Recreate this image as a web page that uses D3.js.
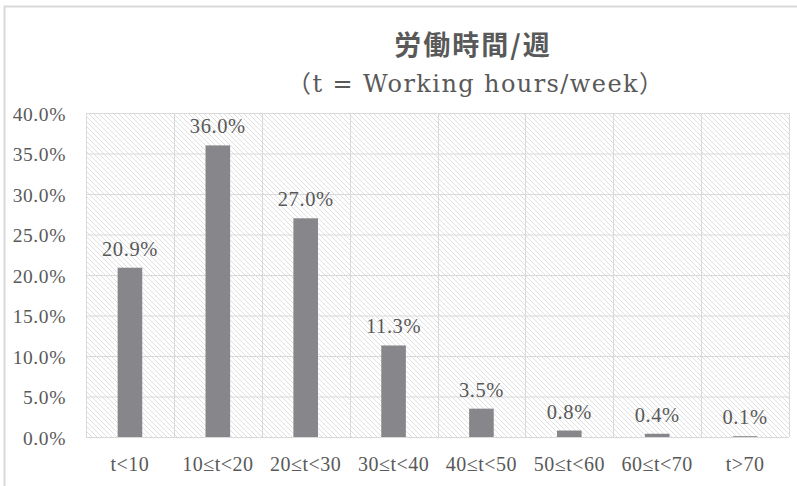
<!DOCTYPE html>
<html>
<head>
<meta charset="utf-8">
<script src="https://cdn.jsdelivr.net/npm/d3@7"></script>
<style>
  body { margin: 0; background: #fff; }
  text { fill: #595959; }
</style>
</head>
<body>
<script>
// Chart data
var categories = ["t<10", "10≤t<20", "20≤t<30", "30≤t<40", "40≤t<50", "50≤t<60", "60≤t<70", "t>70"];
var shares = [20.9, 36.0, 27.0, 11.3, 3.5, 0.8, 0.4, 0.1];
var yTicks = [0, 5, 10, 15, 20, 25, 30, 35, 40];

var width = 797, height = 486;
var plot = { left: 86, right: 789, top: 113, bottom: 437 };
var serif = "'Liberation Serif', 'Noto Sans CJK JP', serif";

var svg = d3.select("body").append("svg")
  .attr("width", width)
  .attr("height", height);

// hatch pattern for plot background (lines running top-left to bottom-right)
var defs = svg.append("defs");
defs.append("pattern")
    .attr("id", "hatch")
    .attr("patternUnits", "userSpaceOnUse")
    .attr("width", 5).attr("height", 5)
  .append("path")
    .attr("d", "M-1,-1 L6,6 M-1,4 L1,6 M4,-1 L6,1")
    .attr("stroke", "#dcdcdc")
    .attr("stroke-width", 0.9);

// outer chart border
svg.append("rect")
  .attr("x", 4.5).attr("y", 6.5)
  .attr("width", 820).attr("height", 500)
  .attr("fill", "none")
  .attr("stroke", "#d9d9d9")
  .attr("stroke-width", 2);

var x = d3.scaleBand()
  .domain(categories)
  .range([plot.left, plot.right]);

var y = d3.scaleLinear()
  .domain([0, 40])
  .range([plot.bottom, plot.top]);

svg.append("rect")
  .attr("x", plot.left).attr("y", plot.top)
  .attr("width", plot.right - plot.left)
  .attr("height", plot.bottom - plot.top)
  .attr("fill", "url(#hatch)");

// horizontal gridlines
svg.append("g")
  .attr("transform", "translate(" + plot.left + ",0)")
  .call(d3.axisLeft(y).tickValues(yTicks).tickSize(-(plot.right - plot.left)).tickFormat(""))
  .call(g => g.select(".domain").remove())
  .call(g => g.selectAll("line").attr("stroke", "#d9d9d9"));

// vertical gridlines at category edges
var edges = categories.map(function(c) { return x(c); }).concat([plot.right]);
svg.append("g").selectAll("line")
    .data(edges).enter()
  .append("line")
    .attr("x1", function(d) { return Math.round(d) + 0.5; })
    .attr("x2", function(d) { return Math.round(d) + 0.5; })
    .attr("y1", plot.top)
    .attr("y2", plot.bottom)
    .attr("stroke", "#d9d9d9");

// y tick labels
svg.append("g").selectAll("text")
    .data(yTicks).enter()
  .append("text")
    .attr("x", 66)
    .attr("y", function(d) { return y(d) + 7.5; })
    .attr("text-anchor", "end")
    .style("font-family", serif)
    .style("font-size", "19.5px")
    .style("letter-spacing", "0.6px")
    .text(function(d) { return d.toFixed(1) + "%"; });

// bars
var barW = x.bandwidth() * 0.28;
svg.append("g").selectAll("rect")
    .data(shares).enter()
  .append("rect")
    .attr("x", function(d, i) { return x(categories[i]) + x.bandwidth() / 2 - barW / 2; })
    .attr("y", function(d) { return y(d); })
    .attr("width", barW)
    .attr("height", function(d) { return plot.bottom - y(d); })
    .attr("fill", "#87878b");

// data labels
svg.append("g").selectAll("text")
    .data(shares).enter()
  .append("text")
    .attr("x", function(d, i) { return x(categories[i]) + x.bandwidth() / 2; })
    .attr("y", function(d) { return y(d) - 12; })
    .attr("text-anchor", "middle")
    .style("font-family", serif)
    .style("font-size", "20.5px")
    .style("letter-spacing", "0.6px")
    .text(function(d) { return d.toFixed(1) + "%"; });

// category labels
svg.append("g").selectAll("text")
    .data(categories).enter()
  .append("text")
    .attr("x", function(d) { return x(d) + x.bandwidth() / 2; })
    .attr("y", 471)
    .attr("text-anchor", "middle")
    .style("font-family", serif)
    .style("font-size", "20px")
    .style("letter-spacing", "0.5px")
    .text(function(d) { return d; });

// titles
svg.append("text")
  .attr("x", 473).attr("y", 55)
  .attr("text-anchor", "middle")
  .style("font-family", "'Noto Sans CJK JP', sans-serif")
  .style("font-weight", "bold")
  .style("font-size", "27px")
  .style("letter-spacing", "2px")
  .text("労働時間/週");

svg.append("text")
  .attr("x", 287).attr("y", 92)
  .attr("textLength", 376)
  .attr("lengthAdjust", "spacing")
  .style("font-family", "'DejaVu Serif', 'Noto Sans CJK JP', serif")
  .style("font-size", "24px")
  .text("（t = Working hours/week）");
</script>
</body>
</html>
